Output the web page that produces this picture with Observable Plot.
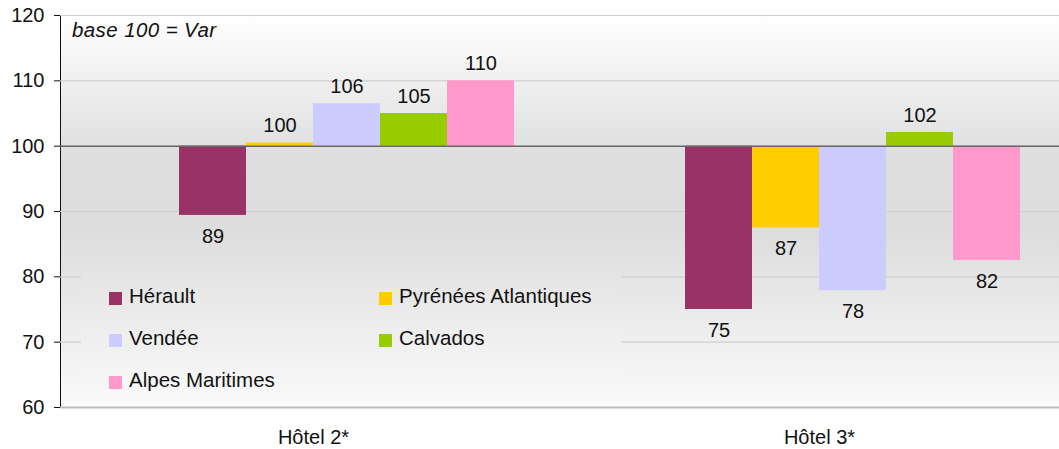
<!DOCTYPE html>
<html>
<head>
<meta charset="utf-8">
<script src="https://cdn.jsdelivr.net/npm/d3@7"></script>
<script src="https://cdn.jsdelivr.net/npm/@observablehq/plot@0.6"></script>
<style>
html, body { margin: 0; padding: 0; background: #fff; overflow: hidden; }
#wrap { position: relative; width: 1059px; height: 449px; overflow: hidden; font-family: "Liberation Sans", Arial, sans-serif; color: #111; }
#wrap svg { position: absolute; left: 0; top: 0; max-width: none !important; }
#note { position: absolute; left: 72px; top: 20px; font-size: 20.5px; letter-spacing: 0.4px; line-height: 20px; font-style: italic; white-space: nowrap; }
#legend { position: absolute; left: 81px; top: 272px; width: 541px; height: 128px; box-sizing: border-box;
  padding: 19.5px 0 0 28px; background: linear-gradient(#e4e4e4, #f9f9f9);
  display: grid; grid-template-columns: 270px auto; grid-auto-rows: 42px; }
.item { display: flex; align-items: center; height: 13px; font-size: 20.5px; white-space: nowrap; }
.item span:last-child { position: relative; top: -2px; }
.sw { width: 13px; height: 13px; margin-right: 7px; flex: none; }
</style>
</head>
<body>
<div id="wrap"></div>
<script>
// ---- data ----
const hotels = ["Hôtel 2*", "Hôtel 3*"];
const series = ["Hérault", "Pyrénées Atlantiques", "Vendée", "Calvados", "Alpes Maritimes"];
const colors = ["#993366", "#FFCC00", "#CCCCFF", "#99CC00", "#FF99CC"];
const hotel2Values = [89.4, 100.49, 106.49, 105.0, 110.0];
const hotel3Values = [75.0, 87.49, 77.9, 102.1, 82.49];
const yTicks = [60, 70, 80, 90, 100, 110, 120];
const baseValue = 100;
const baseSeries = "Var";
const noteText = "base 100 = Var";

const valuesByHotel = [hotel2Values, hotel3Values];
const rows = hotels.flatMap((h, i) => series.map((s, j) => ({
  hotel: h, series: s, value: valuesByHotel[i][j], base: baseValue
})));
const fmt = d3.format(".0f");

const chart = Plot.plot({
  width: 1072,
  height: 449,
  marginLeft: 60,
  marginRight: 0,
  marginTop: 15,
  marginBottom: 42,
  style: { fontFamily: "Liberation Sans, Arial, sans-serif", fontSize: "20px", color: "#111", background: "transparent", overflow: "visible", maxWidth: "none" },
  y: { domain: [yTicks[0], yTicks[yTicks.length - 1]], ticks: yTicks, tickSize: 6, tickPadding: 10, label: null, line: true, tickFormat: d => String(d) },
  x: { domain: [baseSeries, ...series], paddingInner: 0, paddingOuter: 0.737, axis: null },
  fx: { domain: hotels, padding: 0, round: true, label: null, tickSize: 0, tickPadding: 22 },
  color: { domain: series, range: colors },
  marks: [
    Plot.frame({ fill: "url(#bgGrad)", stroke: null, shapeRendering: "crispEdges", insetRight: -1 }),
    Plot.ruleY(yTicks.filter(t => t !== baseValue && t !== yTicks[0]), { stroke: "#cfcfcf", strokeWidth: 1.2 }),
    Plot.barY(rows, { fx: "hotel", x: "series", y1: "base", y2: "value", fill: "series", inset: 0 }),
    Plot.ruleY([baseValue], { stroke: "#666", strokeWidth: 1.5 }),
    Plot.ruleY([yTicks[0]], { stroke: "#bdbdbd", strokeWidth: 2 }),
    Plot.text(rows.filter(d => d.value >= baseValue), { fx: "hotel", x: "series", y: "value", text: d => fmt(d.value), dy: -17, fontSize: 20, fill: "#111" }),
    Plot.text(rows.filter(d => d.value < baseValue), { fx: "hotel", x: "series", y: "value", text: d => fmt(d.value), dy: 21, fontSize: 20, fill: "#111" })
  ]
});

// gradient background definition
const ns = "http://www.w3.org/2000/svg";
const defs = document.createElementNS(ns, "defs");
const grad = document.createElementNS(ns, "linearGradient");
grad.setAttribute("id", "bgGrad");
grad.setAttribute("x1", "0"); grad.setAttribute("y1", "0");
grad.setAttribute("x2", "0"); grad.setAttribute("y2", "1");
[["0", "#ffffff"], ["0.36", "#dedede"], ["0.55", "#dddddd"], ["1", "#fafafa"]].forEach(([o, c]) => {
  const s = document.createElementNS(ns, "stop");
  s.setAttribute("offset", o); s.setAttribute("stop-color", c);
  grad.appendChild(s);
});
defs.appendChild(grad);
chart.insertBefore(defs, chart.firstChild);

const wrap = document.getElementById("wrap");
wrap.appendChild(chart);

const note = document.createElement("div");
note.id = "note";
note.textContent = noteText;
wrap.appendChild(note);

const legend = document.createElement("div");
legend.id = "legend";
series.forEach((s, i) => {
  const it = document.createElement("div");
  it.className = "item";
  const sw = document.createElement("span");
  sw.className = "sw";
  sw.style.background = colors[i];
  const lb = document.createElement("span");
  lb.textContent = s;
  it.appendChild(sw); it.appendChild(lb);
  legend.appendChild(it);
});
wrap.appendChild(legend);
</script>
</body>
</html>
